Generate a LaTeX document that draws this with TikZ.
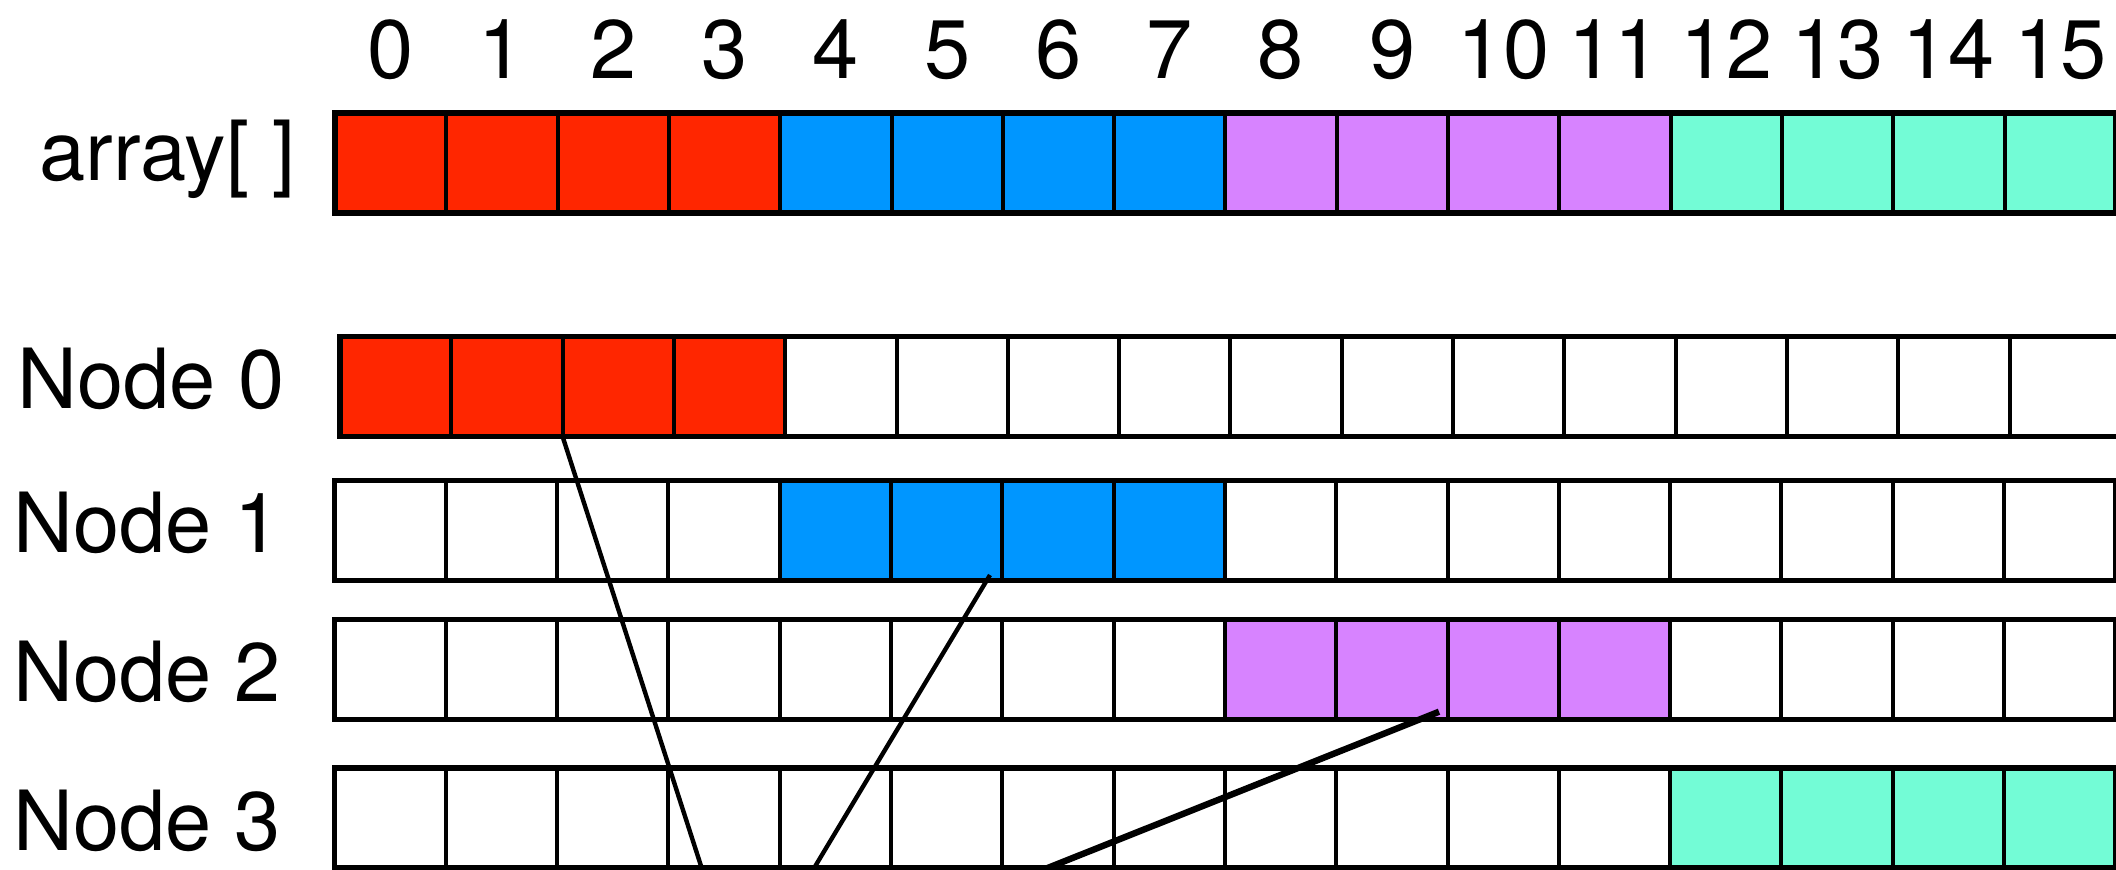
\documentclass[tikz,border=0pt]{standalone}
\usepackage{fontspec}
\setmainfont{TeX Gyre Heros}
\usepackage{xcolor}
\usepackage{tikz}

\definecolor{cred}{HTML}{FF2600}
\definecolor{cblue}{HTML}{0096FF}
\definecolor{cpurple}{HTML}{D783FF}
\definecolor{cgreen}{HTML}{73FCD6}

\begin{document}
\begin{tikzpicture}[x=0.5pt, y=-0.5pt, font=\fontsize{41.5}{50}\selectfont,
  cell/.style={draw, line width=2pt, minimum width=55.65pt, minimum height=50pt,
               inner sep=0pt, outer sep=0pt},
  frame/.style={draw, line width=2.7pt},
  idx/.style={anchor=base, inner sep=0pt},
  lbl/.style={anchor=base west, inner sep=0pt},
  link/.style={line width=2.2pt}]
\useasboundingbox (0,0) rectangle (2116,869);

% array[] row on top
\foreach \g/\c in {0/cred,1/cblue,2/cpurple,3/cgreen}
  \foreach \k in {0,...,3} {
    \pgfmathtruncatemacro\i{4*\g+\k}
    \node[cell, fill=\c] (a\i) at (335+111.3*\i+55.65, 163) {};
  }
\draw[frame] (a0.north west) rectangle (a15.south east);
\foreach \i in {0,...,15}
  \node[idx] (i\i) at ([yshift=17.35pt]a\i.north) {\i};
\node[lbl, anchor=base east] (arr) at (296,180) {array[ ]};

% one row per node, only its own quarter filled
\foreach \r/\L/\Y in {0/340/386.5, 1/334.5/530.5, 2/334.5/669.5, 3/334.5/818} {
  \foreach \g/\c in {0/cred,1/cblue,2/cpurple,3/cgreen}
    \foreach \k in {0,...,3} {
      \pgfmathtruncatemacro\i{4*\g+\k}
      \ifnum\g=\r \def\fc{\c}\else\def\fc{white}\fi
      \node[cell, fill=\fc] (r\r-\i) at (\L+111.3*\i+55.65, \Y) {};
    }
  \draw[frame] (r\r-0.north west) rectangle (r\r-15.south east);
}
\foreach \r/\x/\b in {0/17/408, 1/13/552, 2/13/701.7, 3/13/850.7}
  \node[lbl] (lab\r) at (\x,\b) {Node \r};

% crossing lines
\coordinate (b1) at (702,869);
\coordinate (t2) at (990,575);
\coordinate (b2) at (813.5,869);
\coordinate (t3) at (1439,711.7);
\coordinate (b3) at (1045,869);
\draw[link] (r0-1.south east) -- (b1);
\draw[link] (t2) -- (b2);
\draw[link, line width=3.2pt] (t3) -- (b3);
\end{tikzpicture}
\end{document}
